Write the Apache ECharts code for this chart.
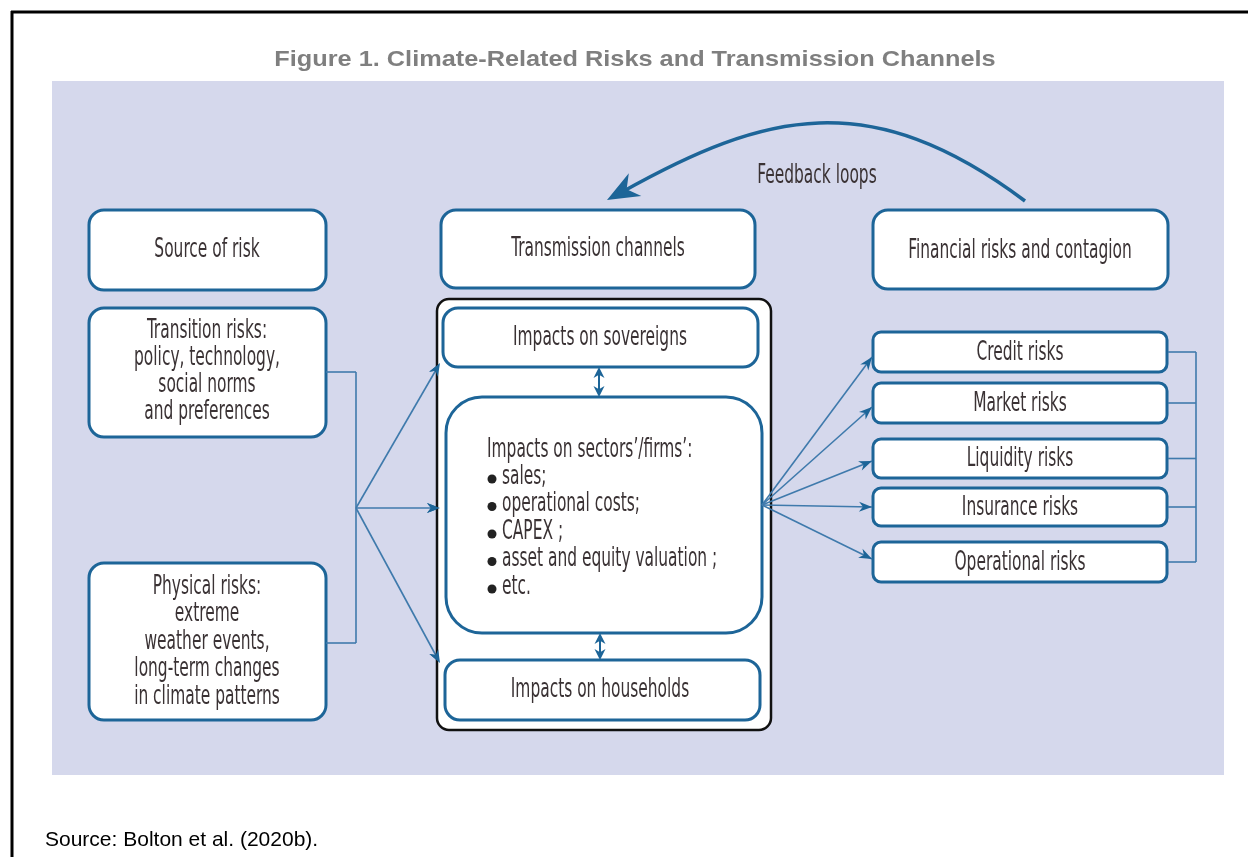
<!DOCTYPE html>
<html>
<head>
<meta charset="utf-8">
<script src="https://cdn.jsdelivr.net/npm/echarts@6/dist/echarts.min.js"></script>
<style>
html,body{margin:0;padding:0;background:#fff;}
#chart{width:1248px;height:857px;}
</style>
</head>
<body>
<div id="chart"></div>
<script>
// ---------- texts of the figure ----------
var titleText = 'Figure 1. Climate-Related Risks and Transmission Channels';
var sourceText = 'Source: Bolton et al. (2020b).';
var headerLabels = ['Source of risk', 'Transmission channels', 'Financial risks and contagion'];
var transitionLines = ['Transition risks:', 'policy, technology,', 'social norms', 'and preferences'];
var physicalLines = ['Physical risks:', 'extreme', 'weather events,', 'long-term changes', 'in climate patterns'];
var channelLabels = ['Impacts on sovereigns', 'Impacts on households'];
var sectorHead = 'Impacts on sectors\u2019/firms\u2019:';
var sectorItems = ['sales;', 'operational costs;', 'CAPEX ;', 'asset and equity valuation ;', 'etc.'];
var riskLabels = ['Credit risks', 'Market risks', 'Liquidity risks', 'Insurance risks', 'Operational risks'];
var feedbackLabel = 'Feedback loops';

// ---------- layout ----------
var headerBoxes = [[89, 210, 237, 80], [441, 210, 314, 78], [873, 210, 295, 79]];
var riskBoxTops = [332, 383, 439, 488, 542];
var riskBoxHeights = [40, 40, 39, 38, 40];
var riskTips = [357, 407, 461, 507, 559];

var BLUE = '#1d6598';
var LINE = '#3f7aac';
var TXT = '#3a3234';
var FONT = '"Liberation Sans Narrow", "DejaVu Sans Condensed", "Liberation Sans", sans-serif';
var SX = 0.66;

var els = [];

function rbox(x, y, w, h, r, stroke, lw) {
	els.push({
		type: 'rect',
		shape: {x: x, y: y, width: w, height: h, r: r},
		style: {fill: '#fff', stroke: stroke || BLUE, lineWidth: lw || 3}
	});
}
function label(text, cx, cy, align) {
	els.push({
		type: 'text',
		x: cx, y: cy,
		scaleX: SX,
		style: {
			text: text, x: 0, y: 0,
			textAlign: align || 'center', textVerticalAlign: 'middle',
			font: '26px ' + FONT, fill: TXT
		}
	});
}
function line(x1, y1, x2, y2, lw, color) {
	els.push({
		type: 'line',
		shape: {x1: x1, y1: y1, x2: x2, y2: y2},
		style: {stroke: color || LINE, lineWidth: lw || 1.6}
	});
}
//箭头: 尖端(tx,ty)，方向来自(fx,fy)
function head(tx, ty, fx, fy, len, wid) {
	var dx = tx - fx, dy = ty - fy, d = Math.sqrt(dx * dx + dy * dy);
	var ux = dx / d, uy = dy / d, px = -uy, py = ux;
	var bx = tx - ux * len, by = ty - uy * len;
	var nx = tx - ux * len * 0.7, ny = ty - uy * len * 0.7;
	els.push({
		type: 'polygon',
		shape: {points: [[tx, ty], [bx + px * wid / 2, by + py * wid / 2], [nx, ny], [bx - px * wid / 2, by - py * wid / 2]]},
		style: {fill: BLUE}
	});
}
function arrow(fx, fy, tx, ty) {
	line(fx, fy, tx, ty);
	head(tx, ty, fx, fy, 13, 10);
}

// ---------- background ----------
els.push({type: 'rect', shape: {x: 52, y: 81, width: 1172, height: 694}, style: {fill: '#d5d8ec'}});
line(11, 12, 1248, 12, 3, '#000');
line(12, 11, 12, 857, 3, '#000');
els.push({
	type: 'text', x: 635, y: 60, scaleX: 1.15,
	style: {text: titleText, x: 0, y: 0, textAlign: 'center', textVerticalAlign: 'middle',
		font: 'bold 22px "Liberation Sans", Arial, sans-serif', fill: '#7f7f7f'}
});
els.push({
	type: 'text', x: 45, y: 840,
	style: {text: sourceText, textAlign: 'left', textVerticalAlign: 'middle',
		font: '21px "Liberation Sans", Arial, sans-serif', fill: '#000'}
});

// ---------- feedback loop ----------
els.push({
	type: 'bezierCurve',
	shape: {x1: 1025, y1: 201, cpx1: 870, cpy1: 85, cpx2: 765, cpy2: 112, x2: 622, y2: 192},
	style: {stroke: BLUE, lineWidth: 3.5, fill: null}
});
head(607, 200, 638, 183, 32, 26);
label(feedbackLabel, 817, 176);

// ---------- header boxes ----------
var headerCenters = [[207, 250], [598, 249], [1020, 251]];
headerBoxes.forEach(function (b, i) {
	rbox(b[0], b[1], b[2], b[3], 15);
	label(headerLabels[i], headerCenters[i][0], headerCenters[i][1]);
});

// ---------- source boxes ----------
rbox(89, 308, 237, 129, 15);
transitionLines.forEach(function (t, i) { label(t, 207, 331 + i * 27); });
rbox(89, 563, 237, 157, 15);
physicalLines.forEach(function (t, i) { label(t, 207, 587 + i * 27.5); });

// left connectors
line(326, 372, 356, 372);
line(326, 643, 356, 643);
line(356, 372, 356, 643);
arrow(356, 508, 440, 363);
arrow(356, 508, 440, 508);
arrow(356, 508, 440, 663);

// ---------- transmission column ----------
els.push({
	type: 'rect',
	shape: {x: 437, y: 299, width: 334, height: 431, r: 12},
	style: {fill: '#fff', stroke: '#111', lineWidth: 2.5}
});
rbox(443, 308, 315, 59, 15);
label(channelLabels[0], 600, 338);
rbox(446, 397, 316, 236, 36);
label(sectorHead, 487, 450, 'left');
sectorItems.forEach(function (t, i) {
	var y = 477 + i * 27.5;
	els.push({type: 'circle', shape: {cx: 492, cy: y + 2, r: 4.5}, style: {fill: '#222'}});
	label(t, 502, y, 'left');
});
rbox(445, 660, 315, 60, 15);
label(channelLabels[1], 600, 690);

// double arrows
line(599, 370, 599, 394, 2, BLUE);
head(599, 367, 599, 380, 11, 11);
head(599, 397, 599, 384, 11, 11);
line(600, 636, 600, 657, 2, BLUE);
head(600, 633, 600, 646, 11, 11);
head(600, 660, 600, 647, 11, 11);
// re-draw left arrowheads over the black frame
head(440, 363, 356, 508, 13, 10);
head(440, 508, 356, 508, 13, 10);
head(440, 663, 356, 508, 13, 10);

// ---------- risk boxes ----------
var riskCenters = [];
riskBoxTops.forEach(function (y, i) {
	var h = riskBoxHeights[i];
	rbox(873, y, 294, h, 8, BLUE, 3);
	label(riskLabels[i], 1020, y + h / 2 + 1);
	riskCenters.push(y + h / 2);
	arrow(762, 505, 872, riskTips[i]);
});
// bracket
riskCenters.forEach(function (c) { line(1168, c, 1196, c); });
line(1196, riskCenters[0], 1196, riskCenters[riskCenters.length - 1]);

var chart = echarts.init(document.getElementById('chart'), null, {renderer: 'canvas'});
chart.setOption({
	animation: false,
	graphic: {elements: els}
});
</script>
</body>
</html>
